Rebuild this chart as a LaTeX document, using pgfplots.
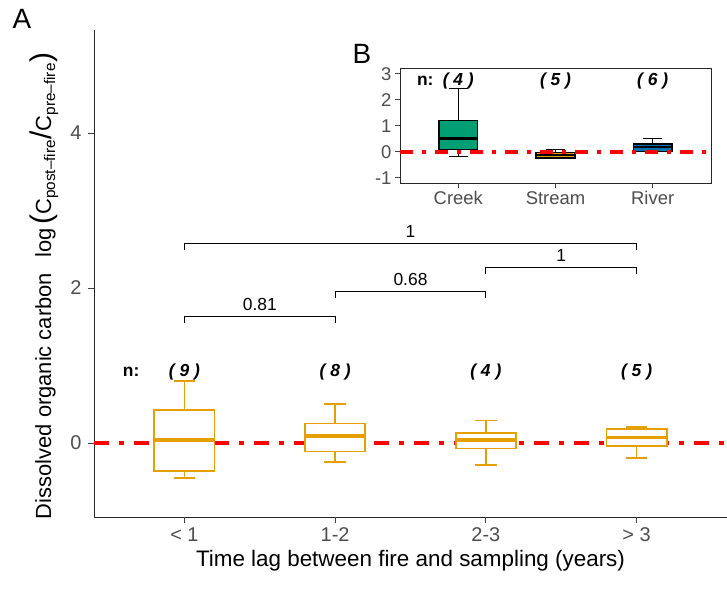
\documentclass[border=0pt]{standalone}
\usepackage{pgfplots}
\pgfplotsset{compat=1.18}
\usepgfplotslibrary{statistics}
\usepackage{fontspec}
\setmainfont{Liberation Sans}
\definecolor{orng}{HTML}{E69F00}
\definecolor{grn}{HTML}{009E73}
\definecolor{blu}{HTML}{0072B2}
\definecolor{gray30}{HTML}{4D4D4D}
\pgfplotsset{boxplot/draw direction=y}
\begin{document}
\begin{tikzpicture}
\path[use as bounding box] (0bp,0bp) rectangle (727bp,607bp);
% ---------------- main panel A ----------------
\begin{axis}[
  at={(94bp,90bp)}, anchor=south west, scale only axis,
  width=633bp, height=487bp,
  xmin=0.4, xmax=4.6, ymin=-0.955, ymax=5.33,
  axis x line*=bottom, axis y line*=left,
  axis line style={line width=0.9bp, black!85},
  xtick={1,2,3,4}, xticklabels={{< 1},{1-2},{2-3},{> 3}},
  ytick={0,2,4}, yticklabels={0,2,4},
  tick align=outside, major tick length=6bp,
  major tick style={draw=black!75, line width=0.9bp},
  ticklabel style={font=\fontsize{20}{24}\selectfont, text=gray30},
  xticklabel style={yshift=-1bp},
  yticklabel style={xshift=-3bp},
  xlabel={Time lag between fire and sampling (years)},
  xlabel style={font=\fontsize{22.5}{26}\selectfont, yshift=-2bp},
  clip=false,
  boxplot/every box/.style={line width=1.7bp},
  boxplot/every whisker/.style={line width=1.7bp},
  boxplot/every median/.style={line width=3.8bp},
]
\addplot[red, line width=4.5bp, dash pattern=on 15bp off 10bp on 5bp off 10bp] coordinates {(0.4,0) (4.6,0)};
\addplot[orng, fill=white, boxplot prepared={draw position=1, lower whisker=-0.45, lower quartile=-0.365, median=0.035, upper quartile=0.43, upper whisker=0.80, box extend=0.4, whisker extend=0.144}] coordinates {};
\addplot[orng, fill=white, boxplot prepared={draw position=2, lower whisker=-0.245, lower quartile=-0.11, median=0.095, upper quartile=0.25, upper whisker=0.50, box extend=0.4, whisker extend=0.144}] coordinates {};
\addplot[orng, fill=white, boxplot prepared={draw position=3, lower whisker=-0.28, lower quartile=-0.07, median=0.04, upper quartile=0.125, upper whisker=0.29, box extend=0.4, whisker extend=0.144}] coordinates {};
\addplot[orng, fill=white, boxplot prepared={draw position=4, lower whisker=-0.19, lower quartile=-0.035, median=0.07, upper quartile=0.185, upper whisker=0.21, box extend=0.4, whisker extend=0.144}] coordinates {};
% significance brackets
\addplot[black, line width=0.9bp] coordinates {(1,1.555) (1,1.63) (2,1.63) (2,1.555)};
\addplot[black, line width=0.9bp] coordinates {(2,1.875) (2,1.95) (3,1.95) (3,1.875)};
\addplot[black, line width=0.9bp] coordinates {(3,2.185) (3,2.26) (4,2.26) (4,2.185)};
\addplot[black, line width=0.9bp] coordinates {(1,2.495) (1,2.57) (4,2.57) (4,2.495)};
\begin{scope}[every node/.style={font=\fontsize{17.5}{20}\selectfont, anchor=base, yshift=6bp}]
\node at (axis cs:1.5,1.63) {0.81};
\node at (axis cs:2.5,1.95) {0.68};
\node at (axis cs:3.5,2.26) {1};
\node at (axis cs:2.5,2.57) {1};
\end{scope}
% n labels
\begin{scope}[every node/.style={font=\fontsize{17.5}{20}\selectfont\bfseries\itshape, anchor=center}]
\node at (axis cs:1,0.92) {( 9 )};
\node at (axis cs:2,0.92) {( 8 )};
\node at (axis cs:3,0.92) {( 4 )};
\node at (axis cs:4,0.92) {( 5 )};
\node[font=\fontsize{17.5}{20}\selectfont\bfseries] at (axis cs:0.646,0.92) {n:};
\end{scope}
% tick marks (axis decoration)
\begin{scope}[draw=black!75, line width=0.9bp]
\draw (axis cs:1,-0.955) -- ++(0pt,-6bp);
\draw (axis cs:2,-0.955) -- ++(0pt,-6bp);
\draw (axis cs:3,-0.955) -- ++(0pt,-6bp);
\draw (axis cs:4,-0.955) -- ++(0pt,-6bp);
\draw (axis cs:0.4,0) -- ++(-6bp,0pt);
\draw (axis cs:0.4,2) -- ++(-6bp,0pt);
\draw (axis cs:0.4,4) -- ++(-6bp,0pt);
\end{scope}
\end{axis}
% ---------------- inset panel B ----------------
\begin{axis}[
  at={(400bp,424bp)}, anchor=south west, scale only axis,
  width=311bp, height=115bp,
  xmin=0.4, xmax=3.6, ymin=-1.2, ymax=3.22,
  axis line style={line width=0.9bp, black!85},
  axis background/.style={fill=white},
  xtick={1,2,3}, xticklabels={Creek,Stream,River},
  ytick={-1,0,1,2,3}, yticklabels={-1,0,1,2,3},
  xtick pos=bottom, ytick pos=left,
  tick align=outside, major tick length=5bp,
  major tick style={draw=black!75, line width=0.9bp},
  ticklabel style={font=\fontsize{18.5}{22}\selectfont, text=gray30},
  clip=false,
  boxplot/every box/.style={line width=1.3bp},
  boxplot/every whisker/.style={line width=1.3bp},
  boxplot/every median/.style={line width=2.6bp},
]
\addplot[black, fill=grn, boxplot prepared={draw position=1, lower whisker=-0.18, lower quartile=0.1, median=0.5, upper quartile=1.2, upper whisker=2.42, box extend=0.4, whisker extend=0.2}] coordinates {};
\addplot[black, fill=orng, boxplot prepared={draw position=2, lower whisker=-0.25, lower quartile=-0.24, median=-0.12, upper quartile=-0.02, upper whisker=0.1, box extend=0.4, whisker extend=0.2}] coordinates {};
\addplot[black, fill=blu, boxplot prepared={draw position=3, lower whisker=0.0, lower quartile=0.01, median=0.18, upper quartile=0.3, upper whisker=0.5, box extend=0.4, whisker extend=0.2}] coordinates {};
\addplot[red, line width=4bp, dash pattern=on 13bp off 9bp on 4bp off 9bp] coordinates {(0.4,0) (3.6,0)};
\begin{scope}[every node/.style={font=\fontsize{17.5}{20}\selectfont\bfseries\itshape, anchor=center}]
\node at (axis cs:1,2.72) {( 4 )};
\node at (axis cs:2,2.72) {( 5 )};
\node at (axis cs:3,2.72) {( 6 )};
\node[font=\fontsize{17.5}{20}\selectfont\bfseries] at (axis cs:0.66,2.72) {n:};
\end{scope}
\begin{scope}[draw=black!75, line width=0.9bp]
\draw (axis cs:1,-1.2) -- ++(0pt,-5bp);
\draw (axis cs:2,-1.2) -- ++(0pt,-5bp);
\draw (axis cs:3,-1.2) -- ++(0pt,-5bp);
\draw (axis cs:0.4,-1) -- ++(-5bp,0pt);
\draw (axis cs:0.4,0) -- ++(-5bp,0pt);
\draw (axis cs:0.4,1) -- ++(-5bp,0pt);
\draw (axis cs:0.4,2) -- ++(-5bp,0pt);
\draw (axis cs:0.4,3) -- ++(-5bp,0pt);
\end{scope}
\end{axis}
% panel letters and y title
\node[font=\fontsize{28}{32}\selectfont] at (22bp,588bp) {A};
\node[font=\fontsize{28}{32}\selectfont] at (362bp,553bp) {B};
\node[rotate=90, font=\fontsize{22}{26}\selectfont] at (44bp,321bp) {Dissolved organic carbon\hspace{0.7em}log\,{\fontsize{30}{30}\selectfont(}C\textsubscript{post–fire}{\fontsize{30}{30}\selectfont/}C\textsubscript{pre–fire}{\fontsize{30}{30}\selectfont)}};
\end{tikzpicture}
\end{document}
